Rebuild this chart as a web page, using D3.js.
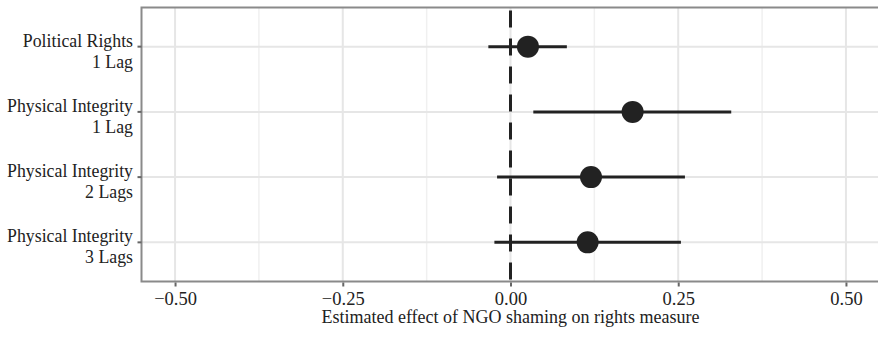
<!DOCTYPE html>
<html>
<head>
<meta charset="utf-8">
<script src="https://cdn.jsdelivr.net/npm/d3@7"></script>
<style>
  body { margin: 0; background: #fff; }
  text { font-family: "Liberation Serif", "DejaVu Serif", serif; fill: #222; }
</style>
</head>
<body>
<svg id="chart" width="878" height="337"></svg>
<script>
// model labels, top to bottom
const models = [
  ['Political Rights', '1 Lag'],
  ['Physical Integrity', '1 Lag'],
  ['Physical Integrity', '2 Lags'],
  ['Physical Integrity', '3 Lags']
];
const estimates = [0.026, 0.182, 0.120, 0.115];
const lower = [-0.033, 0.034, -0.020, -0.024];
const upper = [0.084, 0.329, 0.260, 0.254];
const xTicks = [-0.5, -0.25, 0, 0.25, 0.5];
const xMinor = [-0.375, -0.125, 0.125, 0.375];
const xTitle = 'Estimated effect of NGO shaming on rights measure';

const svg = d3.select('svg#chart');
const panel = { left: 141.5, right: 879.5, top: 7.5, bottom: 281.5 };

const xScale = d3.scaleLinear()
  .domain([-0.55, 0.55])
  .range([panel.left, panel.right]);

const yScale = d3.scaleLinear()
  .domain([0.4, models.length + 0.6])
  .range([panel.top, panel.bottom]);

const rows = models.map((m, i) => ({
  label: m, pos: i + 1, est: estimates[i], lo: lower[i], hi: upper[i]
}));

// grid
const grid = svg.append('g');
grid.selectAll('line.minor')
  .data(xMinor).enter().append('line')
  .attr('x1', d => xScale(d)).attr('x2', d => xScale(d))
  .attr('y1', panel.top).attr('y2', panel.bottom)
  .attr('stroke', '#f0f0f0').attr('stroke-width', 1.5);
grid.selectAll('line.major')
  .data(xTicks).enter().append('line')
  .attr('x1', d => xScale(d)).attr('x2', d => xScale(d))
  .attr('y1', panel.top).attr('y2', panel.bottom)
  .attr('stroke', '#e6e6e6').attr('stroke-width', 2);
grid.selectAll('line.h')
  .data(rows).enter().append('line')
  .attr('x1', panel.left).attr('x2', panel.right)
  .attr('y1', d => yScale(d.pos)).attr('y2', d => yScale(d.pos))
  .attr('stroke', '#e6e6e6').attr('stroke-width', 2);

// zero line
svg.append('line')
  .attr('x1', xScale(0)).attr('x2', xScale(0))
  .attr('y1', panel.top).attr('y2', panel.bottom)
  .attr('stroke', '#222').attr('stroke-width', 3)
  .attr('stroke-dasharray', '17,11')
  .attr('stroke-dashoffset', -3);

// intervals and points
svg.selectAll('line.ci')
  .data(rows).enter().append('line')
  .attr('x1', d => xScale(d.lo)).attr('x2', d => xScale(d.hi))
  .attr('y1', d => yScale(d.pos)).attr('y2', d => yScale(d.pos))
  .attr('stroke', '#222').attr('stroke-width', 3);
svg.selectAll('circle')
  .data(rows).enter().append('circle')
  .attr('cx', d => xScale(d.est))
  .attr('cy', d => yScale(d.pos))
  .attr('r', 11)
  .attr('fill', '#222');

// panel border
svg.append('path')
  .attr('d', `M${panel.right},${panel.top}H${panel.left}V${panel.bottom}H${panel.right}`)
  .attr('fill', 'none').attr('stroke', '#8a8a8a').attr('stroke-width', 2);

// x axis
const fmt = d => d3.format('.2f')(d).replace('-', '\u2013');
const xAxis = svg.append('g')
  .attr('transform', 'translate(0,' + (panel.bottom + 1) + ')')
  .call(d3.axisBottom(xScale).tickValues(xTicks).tickFormat(fmt).tickSize(4).tickPadding(5));
xAxis.select('.domain').remove();
xAxis.selectAll('line').attr('stroke', '#666').attr('stroke-width', 2);
xAxis.selectAll('text').attr('font-size', '18.5px').attr('fill', '#222')
  .attr('font-family', '"Liberation Serif", serif');

svg.append('text')
  .attr('x', (panel.left + 879.5) / 2)
  .attr('y', 323)
  .attr('text-anchor', 'middle')
  .attr('font-size', '18px')
  .text(xTitle);

// y axis
const yAxis = svg.append('g');
yAxis.selectAll('line')
  .data(rows).enter().append('line')
  .attr('x1', panel.left - 4).attr('x2', panel.left)
  .attr('y1', d => yScale(d.pos)).attr('y2', d => yScale(d.pos))
  .attr('stroke', '#666').attr('stroke-width', 2);
const labels = yAxis.selectAll('text')
  .data(rows).enter().append('text')
  .attr('text-anchor', 'end')
  .attr('font-size', '17.8px');
labels.append('tspan')
  .attr('x', 133).attr('y', d => yScale(d.pos))
  .text(d => d.label[0]);
labels.append('tspan')
  .attr('x', 133).attr('y', d => yScale(d.pos) + 21)
  .text(d => d.label[1]);
</script>
</body>
</html>
